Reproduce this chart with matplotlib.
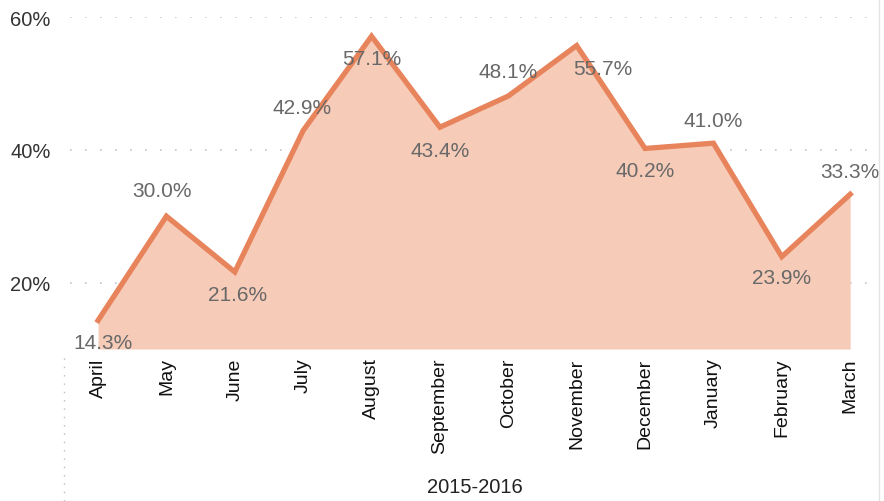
# monthly rate area chart

import numpy as np
import matplotlib
matplotlib.use('Agg')
import matplotlib.pyplot as plt
from matplotlib.lines import Line2D

months = ['April', 'May', 'June', 'July', 'August', 'September', 'October',
          'November', 'December', 'January', 'February', 'March']
rates = [14.3, 30.0, 21.6, 42.9, 57.1, 43.4, 48.1, 55.7, 40.2, 41.0, 23.9, 33.3]
y_ticks = [20, 40, 60]
x_title = '2015-2016'

# label offsets in pixels (dx, dy)
label_off = [(5, -22), (-4, 26), (3, -23), (-1, 23), (0, -22), (0, -23),
             (0, 25), (26, -23), (0, -22), (0, 23), (0, -21), (0, 23)]

line_color = '#E8845C'
fill_color = '#F6CBB8'

plt.rcParams['font.family'] = ['Liberation Sans', 'DejaVu Sans']

fig = plt.figure(figsize=(8.84, 5.02), dpi=100)
ax = fig.add_axes([70/884, 1-350/502, 800/884, 332/502])

x = np.arange(len(months))
ax.fill_between(x, rates, 10, color=fill_color, lw=0, zorder=1)
ax.plot(x, rates, color=line_color, lw=3.8, solid_joinstyle='miter', zorder=3)

for xi, v, (dx, dy) in zip(x, rates, label_off):
    ax.annotate('%.1f%%' % v, (xi, v), xytext=(dx, dy), textcoords='offset pixels',
                ha='center', va='center', fontsize=15, color='#686868', zorder=4)

ax.set_xlim(-0.41, 11.29)
ax.set_ylim(10, 60)
ax.set_yticks(y_ticks)
ax.set_yticklabels(['%d%%' % t for t in y_ticks])
ax.set_xticks(x)
ax.set_xticklabels(months, rotation=90, va='top')
ax.tick_params(axis='y', length=0, pad=14, labelsize=14.5, labelcolor='#333333')
ax.tick_params(axis='x', length=0, pad=6, labelsize=14, labelcolor='#111111')
ax.yaxis.grid(True, linestyle=(0, (1, 8)), color='#c4c4c4', lw=1.2)
ax.set_axisbelow(True)
for s in ax.spines.values():
    s.set_visible(False)

fig.text(475/884, 1-488/502, x_title, ha='center', va='center', fontsize=14.5, color='#222222')

# frame lines
fig.add_artist(Line2D([64/884, 64/884], [0, 1-357/502], transform=fig.transFigure,
                      color='#bdbdbd', lw=1, linestyle=(0, (1, 5))))
fig.add_artist(Line2D([879/884, 879/884], [0, 1], transform=fig.transFigure,
                      color='#e3e3e3', lw=1))

fig.savefig('out.png', dpi=100)
